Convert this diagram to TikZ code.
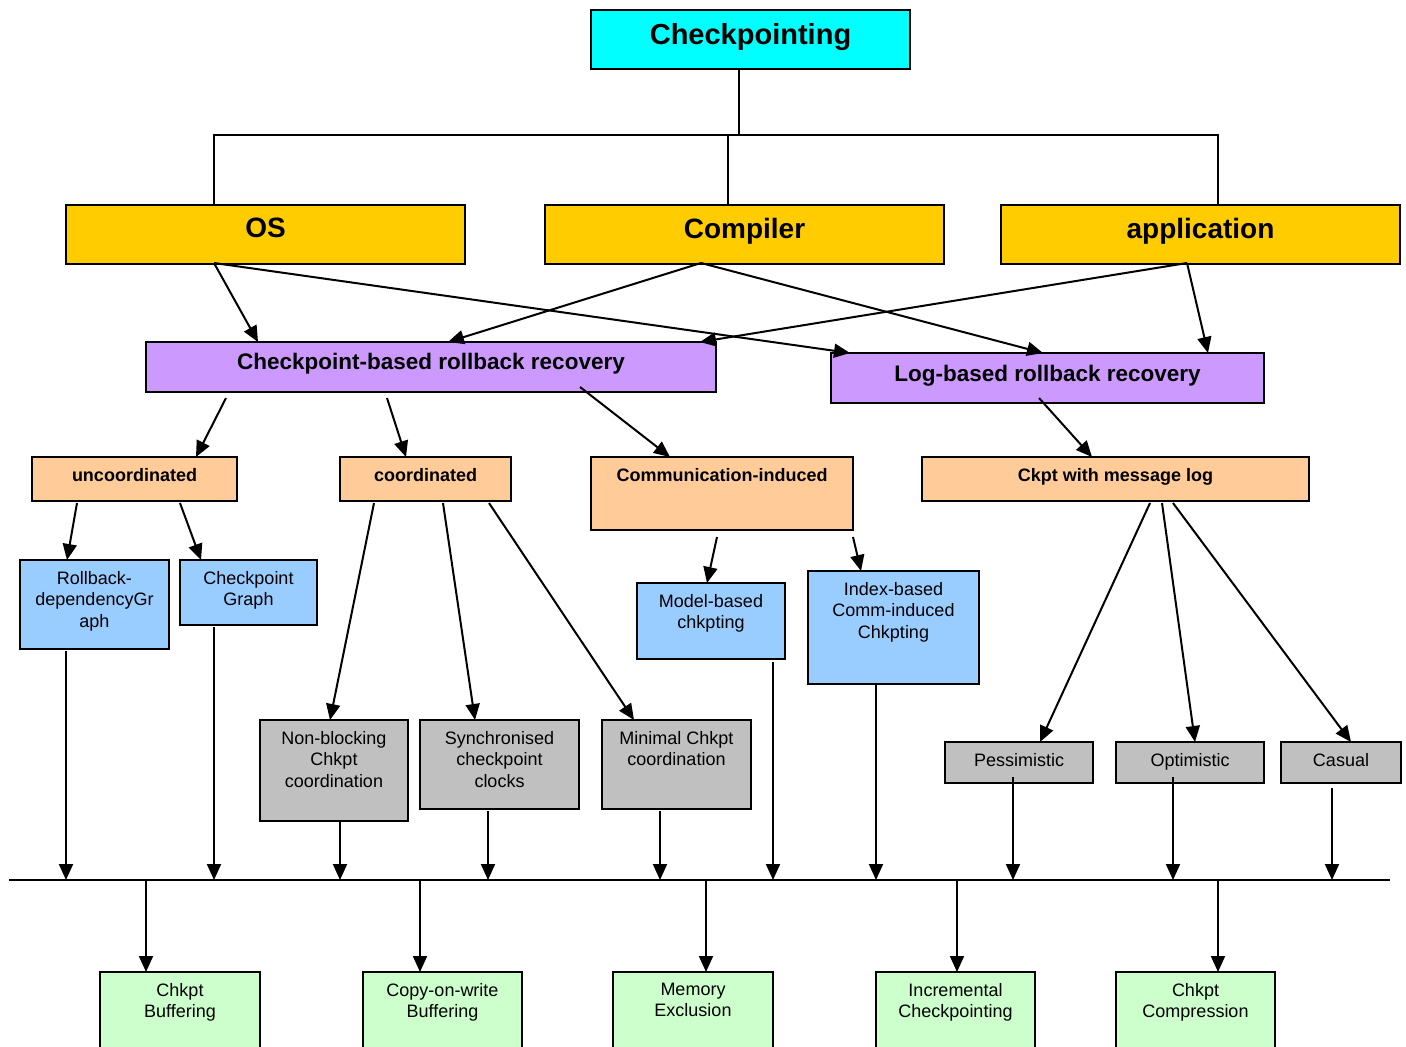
\documentclass[tikz,border=0pt]{standalone}
\usepackage{fontspec}
\setmainfont{Liberation Sans}
\usetikzlibrary{arrows.meta}

\definecolor{cCyan}{HTML}{00FFFF}
\definecolor{cGold}{HTML}{FFCC00}
\definecolor{cLilac}{HTML}{CC99FF}
\definecolor{cPeach}{HTML}{FFCC99}
\definecolor{cSky}{HTML}{99CCFF}
\definecolor{cGrey}{HTML}{C0C0C0}
\definecolor{cMint}{HTML}{CCFFCC}

\begin{document}
\begin{tikzpicture}[x=1pt,y=-1pt,
  box/.style={draw=black, line width=1.8pt, inner sep=0pt, outer sep=0pt, anchor=north west},
  lbl/.style={inner sep=0pt, outer sep=0pt, anchor=north, align=center, text=black},
  hugebf/.style={lbl, font=\fontsize{29}{33}\selectfont\bfseries},
  bigbf/.style={lbl, font=\fontsize{28}{32}\selectfont\bfseries},
  midbf/.style={lbl, font=\fontsize{22.5}{26}\selectfont\bfseries},
  smallbf/.style={lbl, font=\fontsize{18}{21.5}\selectfont\bfseries},
  plain/.style={lbl, font=\fontsize{18}{21.5}\selectfont},
  tree/.style={line width=1.4pt},
  arr/.style={line width=2pt, -{Triangle[length=16pt,width=14pt]}},
  bus/.style={line width=2.2pt}
]
\useasboundingbox (0,0) rectangle (1406,1047);
\fill[white] (0,0) rectangle (1406,1047);
\clip (0,0) rectangle (1406,1047);

% ---------- root and top level ----------
\node[box, fill=cCyan, minimum width=319pt, minimum height=59pt] (ckp) at (591,10) {};
\node[hugebf] (ckp-t) at (750.5,23) {Checkpointing};

\node[box, fill=cGold, minimum width=399pt, minimum height=59pt] (os) at (66,205) {};
\node[bigbf] (os-t) at (265.5,218) {OS};
\node[box, fill=cGold, minimum width=399pt, minimum height=59pt] (comp) at (545,205) {};
\node[bigbf] (comp-t) at (744.5,218) {Compiler};
\node[box, fill=cGold, minimum width=399pt, minimum height=59pt] (app) at (1001,205) {};
\node[bigbf] (app-t) at (1200.5,218) {application};

% ---------- recovery families ----------
\node[box, fill=cLilac, minimum width=570pt, minimum height=50pt] (cbr) at (146,342) {};
\node[midbf] (cbr-t) at (431,353) {Checkpoint-based rollback recovery};
\node[box, fill=cLilac, minimum width=433pt, minimum height=50pt] (lbr) at (831,353) {};
\node[midbf] (lbr-t) at (1047.5,365) {Log-based rollback recovery};

% ---------- protocol classes ----------
\node[box, fill=cPeach, minimum width=205pt, minimum height=44pt] (unc) at (32,457) {};
\node[smallbf] (unc-t) at (134.5,468) {uncoordinated};
\node[box, fill=cPeach, minimum width=171pt, minimum height=44pt] (coo) at (340,457) {};
\node[smallbf] (coo-t) at (425.5,468) {coordinated};
\node[box, fill=cPeach, minimum width=262pt, minimum height=73pt] (cic) at (591,457) {};
\node[smallbf] (cic-t) at (722,468) {Communication-induced};
\node[box, fill=cPeach, minimum width=387pt, minimum height=44pt] (cml) at (922,457) {};
\node[smallbf] (cml-t) at (1115.5,468) {Ckpt with message log};

% ---------- techniques ----------
\node[box, fill=cSky, minimum width=149pt, minimum height=89pt] (rdg) at (20,560) {};
\node[plain] (rdg-t) at (94.5,571) {Rollback-\\dependencyGr\\aph};
\node[box, fill=cSky, minimum width=137pt, minimum height=65pt] (cg) at (180,560) {};
\node[plain] (cg-t) at (248.5,571) {Checkpoint\\Graph};
\node[box, fill=cSky, minimum width=148pt, minimum height=76pt] (mb) at (637,583) {};
\node[plain] (mb-t) at (711,594) {Model-based\\chkpting};
\node[box, fill=cSky, minimum width=171pt, minimum height=113pt] (ib) at (808,571) {};
\node[plain] (ib-t) at (893.5,582) {Index-based\\Comm-induced\\Chkpting};

\node[box, fill=cGrey, minimum width=148pt, minimum height=101pt] (nb) at (260,720) {};
\node[plain] (nb-t) at (334,731) {Non-blocking\\Chkpt\\coordination};
\node[box, fill=cGrey, minimum width=159pt, minimum height=89pt] (sc) at (420,720) {};
\node[plain] (sc-t) at (499.5,731) {Synchronised\\checkpoint\\clocks};
\node[box, fill=cGrey, minimum width=149pt, minimum height=89pt] (mc) at (602,720) {};
\node[plain] (mc-t) at (676.5,731) {Minimal Chkpt\\coordination};
\node[box, fill=cGrey, minimum width=148pt, minimum height=41pt] (pes) at (945,742) {};
\node[plain] (pes-t) at (1019,753) {Pessimistic};
\node[box, fill=cGrey, minimum width=148pt, minimum height=41pt] (opt) at (1116,742) {};
\node[plain] (opt-t) at (1190,753) {Optimistic};
\node[box, fill=cGrey, minimum width=120pt, minimum height=41pt] (cas) at (1281,742) {};
\node[plain] (cas-t) at (1341,753) {Casual};

% ---------- implementation optimisations ----------
\node[box, fill=cMint, minimum width=160pt, minimum height=100pt] (g1) at (100,972) {};
\node[plain] (g1-t) at (180,983) {Chkpt\\Buffering};
\node[box, fill=cMint, minimum width=159pt, minimum height=100pt] (g2) at (363,972) {};
\node[plain] (g2-t) at (442.5,983) {Copy-on-write\\Buffering};
\node[box, fill=cMint, minimum width=160pt, minimum height=100pt] (g3) at (613,972) {};
\node[plain] (g3-t) at (693,983) {Memory\\Exclusion};
\node[box, fill=cMint, minimum width=159pt, minimum height=100pt] (g4) at (876,972) {};
\node[plain] (g4-t) at (955.5,983) {Incremental\\Checkpointing};
\node[box, fill=cMint, minimum width=159pt, minimum height=100pt] (g5) at (1116,972) {};
\node[plain] (g5-t) at (1195.5,983) {Chkpt\\Compression};

% ---------- root fan-out ----------
\coordinate (hub) at (739,135);
\draw[tree] ([shift={(-11.5,0)}]ckp.south) -- (hub);
\draw[tree] ([shift={(-51.5,0)}]os.north) |- (hub) -| ([shift={(17.5,0)}]app.north);
\coordinate (compin) at ([shift={(-16.5,0)}]comp.north);
\draw[tree] (compin |- hub) -- (compin);

% ---------- level links ----------
\draw[arr] ([shift={(148,58)}]os.north west) -- ([shift={(112,0)}]cbr.north west);
\draw[arr] ([shift={(148,58)}]os.north west) -- ([shift={(19,0)}]lbr.north west);
\draw[arr] ([shift={(156,58)}]comp.north west) -- ([shift={(302,0)}]cbr.north west);
\draw[arr] ([shift={(156,58)}]comp.north west) -- ([shift={(212,0)}]lbr.north west);
\draw[arr] ([shift={(186,58)}]app.north west) -- ([shift={(554,0)}]cbr.north west);
\draw[arr] ([shift={(186,58)}]app.north west) -- ([shift={(377,0)}]lbr.north west);

\draw[arr] ([shift={(80,56)}]cbr.north west) -- ([shift={(164,0)}]unc.north west);
\draw[arr] ([shift={(241,56)}]cbr.north west) -- ([shift={(66,0)}]coo.north west);
\draw[arr] ([shift={(434,45)}]cbr.north west) -- ([shift={(79,0)}]cic.north west);
\draw[arr] ([shift={(208,45)}]lbr.north west) -- ([shift={(170,0)}]cml.north west);

\draw[arr] ([shift={(45,46)}]unc.north west) -- ([shift={(47,0)}]rdg.north west);
\draw[arr] ([shift={(148,46)}]unc.north west) -- ([shift={(21,0)}]cg.north west);
\draw[arr] ([shift={(34,46)}]coo.north west) -- ([shift={(70,0)}]nb.north west);
\draw[arr] ([shift={(103,46)}]coo.north west) -- ([shift={(55,0)}]sc.north west);
\draw[arr] ([shift={(149,46)}]coo.north west) -- ([shift={(32,0)}]mc.north west);
\draw[arr] ([shift={(126,80)}]cic.north west) -- ([shift={(70,0)}]mb.north west);
\draw[arr] ([shift={(262,80)}]cic.north west) -- ([shift={(53,0)}]ib.north west);
\draw[arr] ([shift={(228,46)}]cml.north west) -- ([shift={(95,0)}]pes.north west);
\draw[arr] ([shift={(240,46)}]cml.north west) -- ([shift={(79,0)}]opt.north west);
\draw[arr] ([shift={(251,46)}]cml.north west) -- ([shift={(70,0)}]cas.north west);

% ---------- common bus ----------
\coordinate (busL) at (9,880);
\coordinate (busR) at (1390,880);
\draw[bus] (busL) -- (busR);

\coordinate (rdgout) at ([shift={(46,91)}]rdg.north west);
\coordinate (cgout)  at ([shift={(34,67)}]cg.north west);
\coordinate (nbout)  at ([shift={(80,102)}]nb.north west);
\coordinate (scout)  at ([shift={(68,91)}]sc.north west);
\coordinate (mcout)  at ([shift={(58,91)}]mc.north west);
\coordinate (mbout)  at ([shift={(136,79)}]mb.north west);
\coordinate (ibout)  at ([shift={(68,114)}]ib.north west);
\coordinate (pesout) at ([shift={(68,35)}]pes.north west);
\coordinate (optout) at ([shift={(57,35)}]opt.north west);
\coordinate (casout) at ([shift={(51,46)}]cas.north west);
\foreach \c in {rdgout,cgout,nbout,scout,mcout,mbout,ibout,pesout,optout,casout}
  \draw[arr] (\c) -- (\c |- busL);

\coordinate (g1in) at ([shift={(46,0)}]g1.north west);
\coordinate (g2in) at ([shift={(57,0)}]g2.north west);
\coordinate (g3in) at ([shift={(93,0)}]g3.north west);
\coordinate (g4in) at ([shift={(81,0)}]g4.north west);
\coordinate (g5in) at ([shift={(102,0)}]g5.north west);
\foreach \c in {g1in,g2in,g3in,g4in,g5in}
  \draw[arr] (\c |- busL) -- (\c);
\end{tikzpicture}
\end{document}
